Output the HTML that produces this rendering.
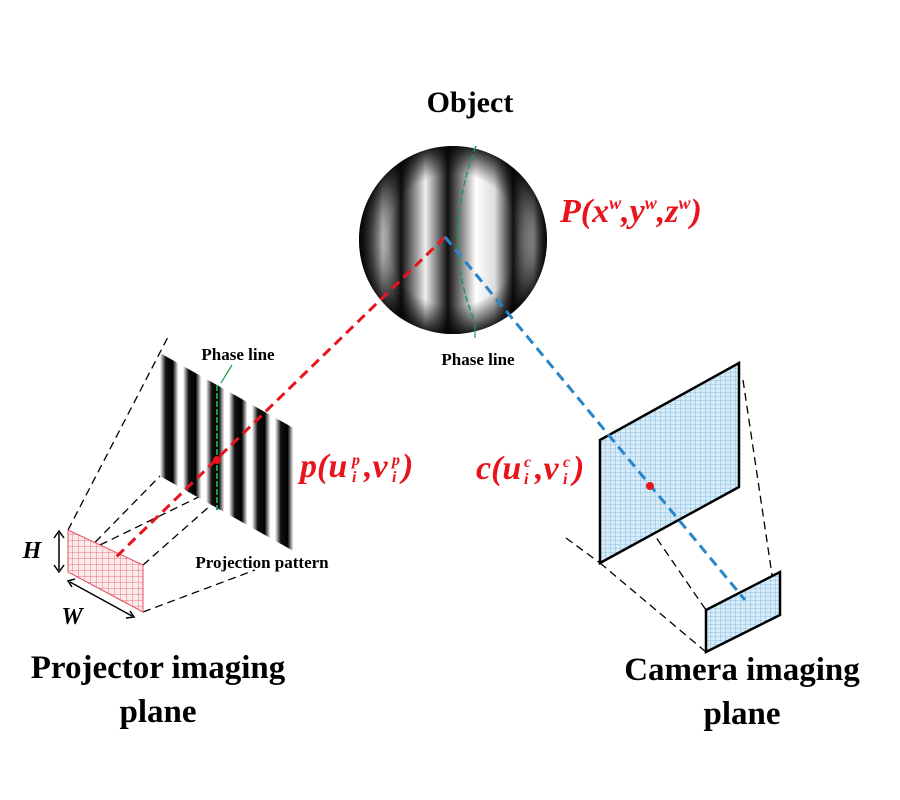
<!DOCTYPE html>
<html><head><style>body{margin:0;background:#fff}svg{display:block}</style></head><body>
<svg width="900" height="800" viewBox="0 0 900 800" xmlns="http://www.w3.org/2000/svg" font-family="Liberation Serif, serif">
<defs>
<linearGradient id="sg" x1="0" y1="0" x2="1" y2="0">
<stop offset="0" stop-color="#fff"/><stop offset="0.25" stop-color="#111"/><stop offset="0.55" stop-color="#000"/><stop offset="0.8" stop-color="#fff"/><stop offset="1" stop-color="#fff"/>
</linearGradient>
<pattern id="str" x="160" y="0" width="23" height="10" patternUnits="userSpaceOnUse"><rect width="23" height="10" fill="url(#sg)"/></pattern>
<linearGradient id="sph" x1="360" y1="0" x2="547" y2="0" gradientUnits="userSpaceOnUse">
<stop offset="0" stop-color="#222"/><stop offset="0.12" stop-color="#ccc"/><stop offset="0.22" stop-color="#111"/>
<stop offset="0.35" stop-color="#eee"/><stop offset="0.47" stop-color="#111"/><stop offset="0.62" stop-color="#fff"/>
<stop offset="0.72" stop-color="#ddd"/><stop offset="0.82" stop-color="#111"/><stop offset="0.93" stop-color="#ddd"/><stop offset="1" stop-color="#333"/>
</linearGradient>
<radialGradient id="shade" cx="453" cy="240" r="94" gradientUnits="userSpaceOnUse">
<stop offset="0.7" stop-color="#000" stop-opacity="0"/><stop offset="1" stop-color="#000" stop-opacity="0.85"/>
</radialGradient>
<pattern id="rg" width="6" height="6" patternUnits="userSpaceOnUse"><rect width="6" height="6" fill="#fde8ea"/><path d="M0 0H6M0 0V6" stroke="#e05060" stroke-width="0.7"/></pattern>
<pattern id="bg" width="5" height="4" patternUnits="userSpaceOnUse"><rect width="5" height="4" fill="#d8ecf8"/><path d="M0 0H5M0 0V4" stroke="#4a9fd4" stroke-width="0.6"/></pattern>
</defs>

<text x="470" y="112" font-size="30" font-weight="bold" text-anchor="middle">Object</text>
<circle cx="453" cy="240" r="94" fill="url(#sph)"/>
<circle cx="453" cy="240" r="94" fill="url(#shade)"/>
<path d="M476 146 Q440 240 475 322" stroke="#1a9a50" stroke-width="1.5" stroke-dasharray="6,3" fill="none"/>
<line x1="475" y1="338" x2="475" y2="325" stroke="#1a9a50" stroke-width="1.2"/>
<text x="478" y="365" font-size="17" font-weight="bold" text-anchor="middle">Phase line</text>
<text x="560" y="222" font-size="34" font-weight="bold" font-style="italic" fill="#e8141c">P(x<tspan font-size="18" dy="-13">w</tspan><tspan dy="13">,y</tspan><tspan font-size="18" dy="-13">w</tspan><tspan dy="13">,z</tspan><tspan font-size="18" dy="-13">w</tspan><tspan dy="13">)</tspan></text>

<!-- projector -->
<g stroke="#000" stroke-width="1.3" stroke-dasharray="8,5" fill="none">
<line x1="68" y1="530" x2="168" y2="337"/>
<line x1="68" y1="570" x2="160" y2="476"/>
<line x1="143" y1="565" x2="296" y2="430"/>
<line x1="143" y1="612" x2="255" y2="570"/>
<line x1="100" y1="545" x2="213" y2="490"/>
</g>
<polygon points="160,353 297,430 297,553 160,476" fill="url(#str)"/>
<line x1="217" y1="385" x2="217" y2="510" stroke="#1a9a50" stroke-width="2" stroke-dasharray="6,2"/>
<line x1="232" y1="365" x2="221" y2="383" stroke="#1a9a50" stroke-width="1.2"/>
<text x="238" y="360" font-size="17" font-weight="bold" text-anchor="middle">Phase line</text>
<polygon points="68,530 143,565 143,612 68,572" fill="url(#rg)" stroke="#e05060" stroke-width="1"/>
<line x1="445" y1="237" x2="113" y2="560" stroke="#e8141c" stroke-width="3" stroke-dasharray="10,6"/>
<circle cx="217" cy="460" r="4" fill="#e8141c"/>
<g font-weight="bold" font-style="italic" fill="#e8141c">
<text x="300" y="477" font-size="34">p(u</text>
<text x="352" y="465" font-size="16">p</text>
<text x="352" y="482" font-size="16">i</text>
<text x="364" y="477" font-size="34">,v</text>
<text x="392" y="465" font-size="16">p</text>
<text x="392" y="482" font-size="16">i</text>
<text x="402" y="477" font-size="34">)</text>
</g>
<text x="262" y="568" font-size="17" font-weight="bold" text-anchor="middle">Projection pattern</text>
<text x="32" y="558" font-size="24" font-weight="bold" font-style="italic" text-anchor="middle">H</text>
<line x1="59" y1="533" x2="59" y2="570" stroke="#000" stroke-width="1.5"/>
<path d="M54 538 L59 531 L64 538 M54 565 L59 572 L64 565" stroke="#000" stroke-width="1.5" fill="none"/>
<line x1="70" y1="582" x2="132" y2="616" stroke="#000" stroke-width="1.5"/>
<path d="M75 579 L68 581 L72 587 M126 618 L134 617 L130 611" stroke="#000" stroke-width="1.5" fill="none"/>
<text x="72" y="624" font-size="24" font-weight="bold" font-style="italic" text-anchor="middle">W</text>
<text x="158" y="678" font-size="33" font-weight="bold" text-anchor="middle">Projector imaging</text>
<text x="158" y="722" font-size="33" font-weight="bold" text-anchor="middle">plane</text>

<!-- camera -->
<g stroke="#000" stroke-width="1.3" stroke-dasharray="8,5" fill="none">
<line x1="743" y1="380" x2="775" y2="595"/>
<line x1="566" y1="538" x2="600" y2="563"/>
<line x1="600" y1="563" x2="706" y2="652"/>
<line x1="620" y1="485" x2="706" y2="610"/>
</g>
<polygon points="600,440 739,363 739,487 600,563" fill="url(#bg)" stroke="#000" stroke-width="2.5"/>
<polygon points="706,610 780,572 780,615 706,652" fill="url(#bg)" stroke="#000" stroke-width="2.5"/>
<line x1="445" y1="237" x2="745" y2="600" stroke="#2a86c8" stroke-width="3" stroke-dasharray="10,6"/>
<circle cx="650" cy="486" r="4" fill="#e8141c"/>
<g font-weight="bold" font-style="italic" fill="#e8141c">
<text x="476" y="479" font-size="34">c(u</text>
<text x="524" y="467" font-size="16">c</text>
<text x="524" y="484" font-size="16">i</text>
<text x="535" y="479" font-size="34">,v</text>
<text x="563" y="467" font-size="16">c</text>
<text x="563" y="484" font-size="16">i</text>
<text x="573" y="479" font-size="34">)</text>
</g>
<text x="742" y="680" font-size="33" font-weight="bold" text-anchor="middle">Camera imaging</text>
<text x="742" y="724" font-size="33" font-weight="bold" text-anchor="middle">plane</text>
</svg>
</body></html>
